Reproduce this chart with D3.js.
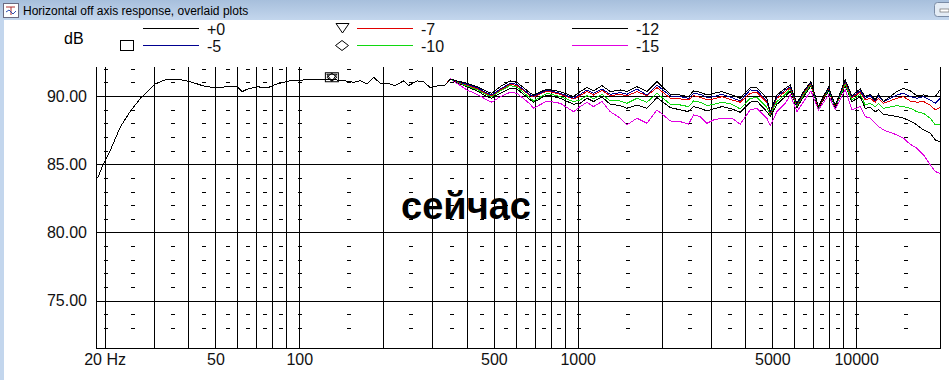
<!DOCTYPE html>
<html lang="en">
<head>
<meta charset="utf-8">
<title>Horizontal off axis response</title>
<script src="https://cdnjs.cloudflare.com/ajax/libs/d3/7.8.5/d3.min.js"></script>
<style>
  body { margin: 0; background: #fff; }
  svg { display: block; font-family: Arial, "Liberation Sans", sans-serif; }
</style>
</head>
<body>
<script>
// shared part of all six curves (they overlap below ~350 Hz)
var freqLow = [18.9, 19.7, 21.0, 22.8, 24.7, 26.9, 28.8, 30.4, 33.5, 36.4, 40.6, 45.3, 50.6, 55, 59.8,
               62.3, 64.9, 70.5, 76.6, 83.2, 92.9, 103.7, 115.8, 130.9, 144.3, 156.8, 165.7, 175.1, 184.9,
               195.4, 206.6, 221, 237, 247, 265, 280, 295, 316, 334, 349];
var dbLow = [84.0, 84.9, 86.05, 87.75, 88.85, 89.83, 90.39, 90.88, 91.24, 91.24, 91.05, 90.73, 90.58, 90.68, 90.71,
             90.31, 90.49, 90.68, 90.58, 90.88, 91.12, 91.17, 91.24, 91.2, 91.12, 91.0, 91.12, 90.88, 91.37,
             90.93, 90.93, 90.76, 91.1, 90.76, 91.1, 91.05, 90.61, 90.76, 90.8, 91.24];

// where the curves split apart
var freqHigh = [368, 400, 435, 472, 492, 527, 572, 605, 676, 694,
                776, 866, 966, 1021, 1080, 1140, 1222, 1309, 1422, 1502,
                1632, 1772, 1926, 2150, 2335, 2500, 2606, 2754, 2911, 3076,
                3296, 3579, 3834, 4164, 4400, 4780, 4912, 5194, 5564, 5798,
                6126, 6472, 6880, 7324, 7956, 8410, 9132, 9652, 10340, 10776,
                11232, 11706, 12032, 12538, 14006, 14792, 15632, 16520, 17452, 18442,
                19224, 20000];
var db0 = [91.10, 90.93, 90.68, 90.32, 90.20, 90.68, 91.10, 91.00, 90.20, 90.07,
           90.51, 90.32, 89.95, 90.32, 90.61, 90.37, 90.76, 90.32, 90.44, 90.32,
           90.68, 90.32, 91.05, 90.12, 90.07, 89.95, 90.37, 90.27, 90.07, 90.20,
           90.32, 90.07, 89.83, 90.61, 90.61, 89.83, 88.85, 90.07, 90.56, 90.80,
           89.46, 90.32, 91.05, 89.22, 90.68, 89.29, 91.17, 90.02, 90.51, 89.95,
           90.12, 89.71, 90.12, 89.59, 90.32, 90.56, 90.37, 90.02, 90.07, 89.95,
           89.95, 90.44];
var db5 = [91.07, 90.85, 90.61, 90.22, 90.07, 90.51, 90.93, 90.85, 90.07, 89.98,
           90.44, 90.20, 89.83, 90.12, 90.44, 90.20, 90.51, 90.12, 90.24, 90.12,
           90.51, 90.07, 90.80, 90.00, 89.95, 89.83, 90.20, 90.12, 89.88, 89.95,
           90.12, 89.88, 89.63, 90.44, 90.41, 89.63, 88.80, 89.95, 90.44, 90.68,
           89.39, 90.27, 91.00, 89.20, 90.61, 89.27, 91.10, 89.95, 90.37, 89.83,
           90.02, 89.63, 90.02, 89.59, 90.07, 90.20, 89.95, 89.83, 89.95, 89.71,
           89.46, 89.83];
var db7 = [91.05, 90.80, 90.54, 90.15, 90.02, 90.44, 90.85, 90.76, 90.02, 89.93,
           90.37, 90.12, 89.78, 90.02, 90.32, 90.07, 90.41, 90.02, 90.12, 90.00,
           90.32, 90.02, 90.61, 89.83, 89.78, 89.71, 90.02, 89.90, 89.71, 89.78,
           89.95, 89.71, 89.54, 90.20, 90.27, 89.54, 88.73, 89.83, 90.32, 90.61,
           89.34, 90.20, 90.93, 89.17, 90.56, 89.24, 91.00, 89.88, 90.27, 89.71,
           89.83, 89.54, 89.83, 89.46, 89.83, 89.95, 89.63, 89.54, 89.59, 89.34,
           88.98, 89.15];
var db10 = [91.02, 90.73, 90.46, 90.07, 89.95, 90.37, 90.76, 90.66, 89.83, 89.63,
            90.20, 89.95, 89.59, 89.71, 90.02, 89.78, 90.12, 89.63, 89.63, 89.46,
            89.83, 89.54, 90.20, 89.39, 89.34, 89.22, 89.63, 89.54, 89.29, 89.39,
            89.54, 89.39, 89.05, 89.83, 89.88, 89.15, 88.61, 89.59, 90.12, 90.51,
            89.29, 90.07, 90.85, 89.15, 90.51, 89.20, 90.85, 89.71, 90.12, 89.34,
            89.46, 89.22, 89.46, 89.10, 89.29, 89.22, 89.10, 88.85, 88.73, 88.37,
            87.88, 87.88];
var db12 = [91.00, 90.66, 90.37, 89.95, 89.83, 90.20, 90.56, 90.51, 89.71, 89.54,
            90.07, 89.83, 89.39, 89.46, 89.83, 89.59, 89.93, 89.39, 89.29, 89.10,
            89.34, 89.10, 89.88, 89.15, 88.98, 88.85, 89.22, 89.10, 88.90, 89.05,
            89.22, 89.05, 88.80, 89.54, 89.63, 88.85, 88.49, 89.39, 89.95, 90.37,
            89.15, 89.95, 90.76, 89.10, 90.37, 89.15, 90.76, 89.59, 89.95, 89.10,
            89.15, 88.85, 88.98, 88.66, 88.49, 88.37, 88.17, 87.88, 87.51, 87.27,
            86.78, 86.66];
var db15 = [90.93, 90.44, 90.12, 89.71, 89.54, 89.95, 90.27, 90.20, 89.39, 89.10,
            89.63, 89.46, 88.85, 89.22, 89.54, 89.22, 89.59, 88.85, 88.37, 87.88,
            88.37, 88.00, 88.98, 88.17, 88.12, 87.93, 88.61, 88.49, 88.00, 88.24,
            88.37, 88.37, 87.93, 88.98, 89.10, 88.37, 87.83, 88.85, 89.46, 90.07,
            88.85, 89.59, 90.37, 88.98, 90.07, 88.98, 90.44, 88.98, 89.22, 88.49,
            88.37, 88.00, 87.76, 87.51, 87.15, 86.90, 86.46, 86.17, 85.68, 84.95,
            84.46, 84.34];

var seriesNames = ["+0", "-5", "-7", "-10", "-12", "-15"];
var seriesValues = [db0, db5, db7, db10, db12, db15];
var seriesColors = ["#000000", "#000090", "#e00000", "#10d810", "#000000", "#e000e0"];

var gridFreqs = [20, 30, 40, 50, 60, 70, 80, 90, 100, 200, 300, 400, 500, 600, 700, 800, 900,
                 1000, 2000, 3000, 4000, 5000, 6000, 7000, 8000, 9000, 10000, 20000];
var dashFreqs = [20, 25, 35, 45, 55, 65, 75, 85, 100, 150, 250, 350, 450, 550, 650, 750, 850,
                 1000, 1500, 2500, 3500, 4500, 5500, 6500, 7500, 8500, 10000, 15000];
var dashDb = [73, 74, 76, 77, 78, 79, 81, 82, 83, 84, 86, 87, 88, 89, 91, 92];
var xTicks = [20, 50, 100, 500, 1000, 5000, 10000];
var xTickLabels = ["20 Hz", "50", "100", "500", "1000", "5000", "10000"];
var yTicks = [90, 85, 80, 75];
var yTickLabels = ["90.00", "85.00", "80.00", "75.00"];
var markerFreq = 131, markerDb = 91.37;

var width = 949, height = 380;
var plotLeft = 96, plotRight = 940, plotTop = 67, plotBottom = 348;

var x = d3.scaleLog().domain([18.63, 20000]).range([plotLeft, plotRight]);
var y = d3.scaleLinear().domain([71.54, 92.12]).range([plotBottom, plotTop]);
var px = function(v) { return Math.round(v) + 0.5; };

var svg = d3.select("body").append("svg")
    .attr("width", width)
    .attr("height", height);

//window chrome
var defs = svg.append("defs");
var grad = defs.append("linearGradient").attr("id", "tb").attr("x1", 0).attr("y1", 0).attr("x2", 0).attr("y2", 1);
grad.append("stop").attr("offset", "0%").attr("stop-color", "#a7bfdc");
grad.append("stop").attr("offset", "100%").attr("stop-color", "#c3d6ed");
svg.append("rect").attr("x", 0).attr("y", 0).attr("width", width).attr("height", 20).attr("fill", "url(#tb)");
svg.append("rect").attr("x", 0).attr("y", 20).attr("width", 4).attr("height", height - 20).attr("fill", "#c3d6ed");

var icon = svg.append("g").attr("transform", "translate(3,3)");
icon.append("rect").attr("x", 0.5).attr("y", 0.5).attr("width", 15).attr("height", 14)
    .attr("fill", "#fff").attr("stroke", "#6a6a80");
icon.append("path").attr("d", "M3 4 L12 4 M8 4 L8 12").attr("stroke", "#b03030").attr("fill", "none");
icon.append("path").attr("d", "M3 9 L6 7 L10 11 L13 8").attr("stroke", "#3050b0").attr("fill", "none");

svg.append("text").attr("x", 23).attr("y", 15)
   .style("font-size", "12px").attr("fill", "#000")
   .text("Horizontal off axis response, overlaid plots");

svg.append("rect").attr("x", 934.5).attr("y", 2.5).attr("width", 22).attr("height", 14).attr("rx", 3)
   .attr("fill", "#e4ecf5").attr("stroke", "#7a8ca6");
svg.append("rect").attr("x", 940).attr("y", 9).attr("width", 9).attr("height", 3)
   .attr("fill", "#fff").attr("stroke", "#555").attr("stroke-width", 0.6);

//grid
var grid = svg.append("g").attr("stroke", "#000").attr("shape-rendering", "crispEdges");
grid.selectAll(".vline").data(gridFreqs).enter().append("line")
    .attr("x1", function(d) { return px(x(d)); })
    .attr("x2", function(d) { return px(x(d)); })
    .attr("y1", plotTop).attr("y2", plotBottom);
grid.append("line").attr("x1", px(plotLeft)).attr("x2", px(plotLeft)).attr("y1", plotTop).attr("y2", plotBottom);
grid.selectAll(".hline").data(yTicks).enter().append("line")
    .attr("x1", plotLeft).attr("x2", plotRight + 1)
    .attr("y1", function(d) { return px(y(d)); })
    .attr("y2", function(d) { return px(y(d)); });
grid.append("line").attr("x1", plotLeft).attr("x2", plotRight + 1).attr("y1", px(plotBottom)).attr("y2", px(plotBottom));

//small dashes for every dB
var dashes = [];
dashFreqs.forEach(function(f) { dashDb.forEach(function(v) { dashes.push([f, v]); }); });
grid.selectAll(".dash").data(dashes).enter().append("line")
    .attr("x1", function(d) { return Math.round(x(d[0])) - 1; })
    .attr("x2", function(d) { return Math.round(x(d[0])) + 3; })
    .attr("y1", function(d) { return px(y(d[1])); })
    .attr("y2", function(d) { return px(y(d[1])); });

//axes
var xAxis = d3.axisBottom(x).tickValues(xTicks)
    .tickFormat(function(d, i) { return xTickLabels[i]; }).tickSize(0).tickPadding(0);
var gx = svg.append("g").attr("transform", "translate(0," + (plotBottom + 17) + ")").call(xAxis);
gx.select(".domain").remove();
gx.selectAll("text").attr("dy", 0).style("font-size", "16px").attr("fill", "#111");

var yAxis = d3.axisLeft(y).tickValues(yTicks)
    .tickFormat(function(d, i) { return yTickLabels[i]; }).tickSize(0).tickPadding(0);
var gy = svg.append("g").attr("transform", "translate(87,0)").call(yAxis);
gy.select(".domain").remove();
gy.selectAll("text").style("font-size", "16px").attr("fill", "#111");

//curves
var line = d3.line()
    .x(function(d) { return x(d[0]); })
    .y(function(d) { return y(d[1]); });

var series = seriesValues.map(function(vals, k) {
  var pts = freqLow.map(function(f, i) { return [f, dbLow[i]]; })
      .concat(freqHigh.map(function(f, i) { return [f, vals[i]]; }));
  return {name: seriesNames[k], color: seriesColors[k], points: pts};
});

svg.append("g").selectAll("path").data(series.slice().reverse()).enter().append("path")
    .attr("d", function(d) { return line(d.points); })
    .attr("fill", "none")
    .attr("stroke", function(d) { return d.color; })
    .attr("stroke-width", 1)
    .attr("shape-rendering", "crispEdges");

//markers on the curve
var mx = x(markerFreq), my = y(markerDb);
var mk = svg.append("g").attr("fill", "none").attr("stroke", "#000").attr("stroke-width", 1);
mk.append("rect").attr("x", mx - 6.5).attr("y", my - 4.5).attr("width", 13).attr("height", 9);
mk.append("path").attr("d", "M" + (mx - 5) + "," + (my - 3) + " L" + (mx + 5) + "," + (my - 3) + " L" + mx + "," + (my + 4) + " Z");
mk.append("path").attr("d", "M" + (mx - 5) + "," + my + " L" + mx + "," + (my - 4) + " L" + (mx + 5) + "," + my + " L" + mx + "," + (my + 4) + " Z");

//legend
svg.append("text").attr("x", 64).attr("y", 44).style("font-size", "16px").text("dB");

var legendCols = [143, 357, 572];
var legendRows = [28, 45];
var leg = svg.append("g").selectAll("g").data(series).enter().append("g")
    .attr("transform", function(d, i) {
      return "translate(" + legendCols[Math.floor(i / 2)] + "," + legendRows[i % 2] + ")";
    });
leg.append("rect").attr("x", 0).attr("y", 0).attr("width", 56).attr("height", 1)
   .attr("fill", function(d) { return d.color; });
leg.append("text").attr("x", 64).attr("y", 6.5).style("font-size", "16px").attr("fill", "#111")
   .text(function(d) { return d.name; });

var sym = svg.append("g").attr("fill", "#fff").attr("stroke", "#000").attr("stroke-width", 1);
sym.append("rect").attr("x", 120.5).attr("y", 40.5).attr("width", 13).attr("height", 10);
sym.append("path").attr("d", "M336,23.5 L349,23.5 L342.5,33 Z");
sym.append("path").attr("d", "M335.5,45.5 L342,40.5 L348.5,45.5 L342,50.5 Z");

//overlay caption
svg.append("text").attr("x", 466).attr("y", 219)
   .attr("text-anchor", "middle")
   .style("font-size", "38px").style("font-weight", "bold")
   .text("сейчас");
</script>
</body>
</html>
